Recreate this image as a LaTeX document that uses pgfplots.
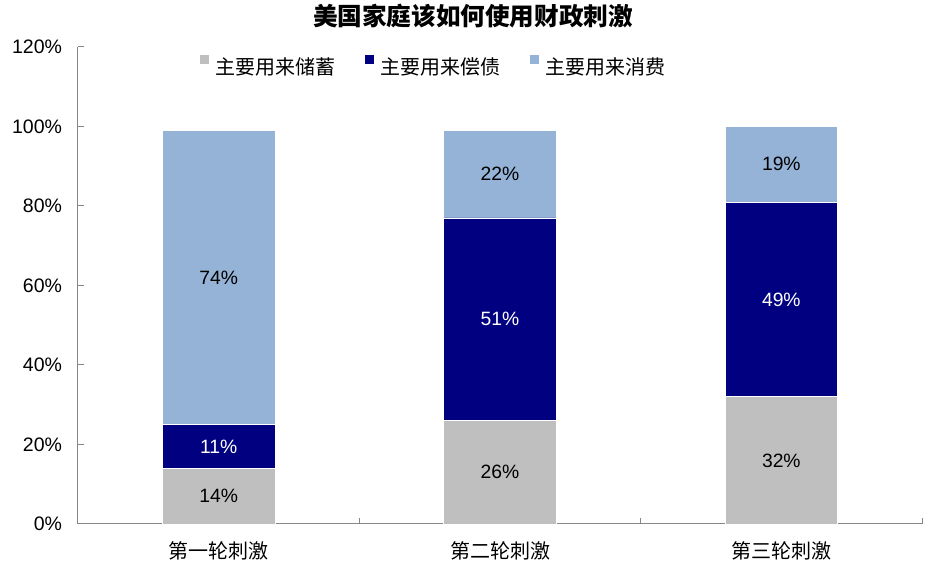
\documentclass[border=0pt]{standalone}
\usepackage{fontspec}
\setmainfont{Liberation Sans}
\newfontfamily\cjk{Noto Sans CJK SC}
\usepackage{pgfplots}
\pgfplotsset{compat=1.18}
\definecolor{cgray}{RGB}{191,191,191}
\definecolor{cnavy}{RGB}{0,0,128}
\definecolor{clblue}{RGB}{149,179,215}
\definecolor{axgray}{RGB}{134,134,134}
\begin{document}
\begin{tikzpicture}
\useasboundingbox (-78pt,-48pt) rectangle (854pt,524pt);
\begin{axis}[
  at={(0pt,0pt)}, anchor=south west,
  scale only axis, width=844pt, height=477pt,
  xmin=-0.5, xmax=2.5, ymin=0, ymax=120,
  ybar stacked, bar width=0.4,
  axis x line*=bottom, axis y line*=left,
  x axis line style={-}, y axis line style={-},
  axis line style={draw=axgray, line width=1pt},
  tick align=inside, major tick length=6pt,
  tick style={draw=axgray, line width=1pt},
  ytick={0,20,...,120},
  yticklabel={\pgfmathprintnumber{\tick}\%},
  /pgf/number format/assume math mode=true,
  y tick label style={font=\fontsize{19.5}{23}\selectfont, xshift=-12.5pt},
  xtick={0.5,1.5,2.5}, xticklabels={},
  extra x ticks={0,1,2},
  extra x tick labels={{\cjk 第一轮刺激},{\cjk 第二轮刺激},{\cjk 第三轮刺激}},
  extra x tick style={major tick length=0pt, tick style={draw=none},
     x tick label style={font=\fontsize{20}{24}\selectfont, yshift=-14pt}},
  title={\cjk\bfseries 美国家庭该如何使用财政刺激},
  title style={at={(axis description cs:0.468,1)}, anchor=center, yshift=25pt,
     font=\fontsize{24.6}{28}\selectfont},
  legend columns=3,
  legend image code/.code={\fill[#1] (0pt,2.6pt) rectangle (10pt,12.6pt);},
  legend style={at={(axis description cs:0.1434,0.9623)}, anchor=west,
     draw=none, fill=none, inner sep=0pt, column sep=0pt,
     nodes={inner sep=0pt, font=\fontsize{20}{24}\selectfont\cjk},
     /tikz/every odd column/.append style={column sep=6pt},
     /tikz/every even column/.append style={column sep=28pt}},
]
\addplot[fill=cgray, draw=white, line width=0.75pt] coordinates {(0,14) (1,26) (2,32)};
\addlegendentry{主要用来储蓄}
\addplot[fill=cnavy, draw=white, line width=0.75pt] coordinates {(0,11) (1,51) (2,49)};
\addlegendentry{主要用来偿债}
\addplot[fill=clblue, draw=white, line width=0.75pt] coordinates {(0,74) (1,22) (2,19)};
\addlegendentry{主要用来消费}
\end{axis}
\begin{axis}[
  at={(0pt,0pt)}, anchor=south west,
  scale only axis, width=844pt, height=477pt,
  xmin=-0.5, xmax=2.5, ymin=0, ymax=120,
  hide axis,
  point meta=explicit,
  nodes near coords={\pgfmathprintnumber[assume math mode=true]{\pgfplotspointmeta}\%},
  every node near coord/.append style={anchor=center, font=\fontsize{19.3}{23}\selectfont},
]
\addplot[draw=none, mark=none] table[x=x, y=y, meta=v] {
x y v
0 7 14
0 62 74
1 13 26
1 88 22
2 16 32
2 90.5 19
};
\addplot[draw=none, mark=none, every node near coord/.append style={text=white}] table[x=x, y=y, meta=v] {
x y v
0 19.5 11
1 51.5 51
2 56.5 49
};
\end{axis}
\end{tikzpicture}
\end{document}
